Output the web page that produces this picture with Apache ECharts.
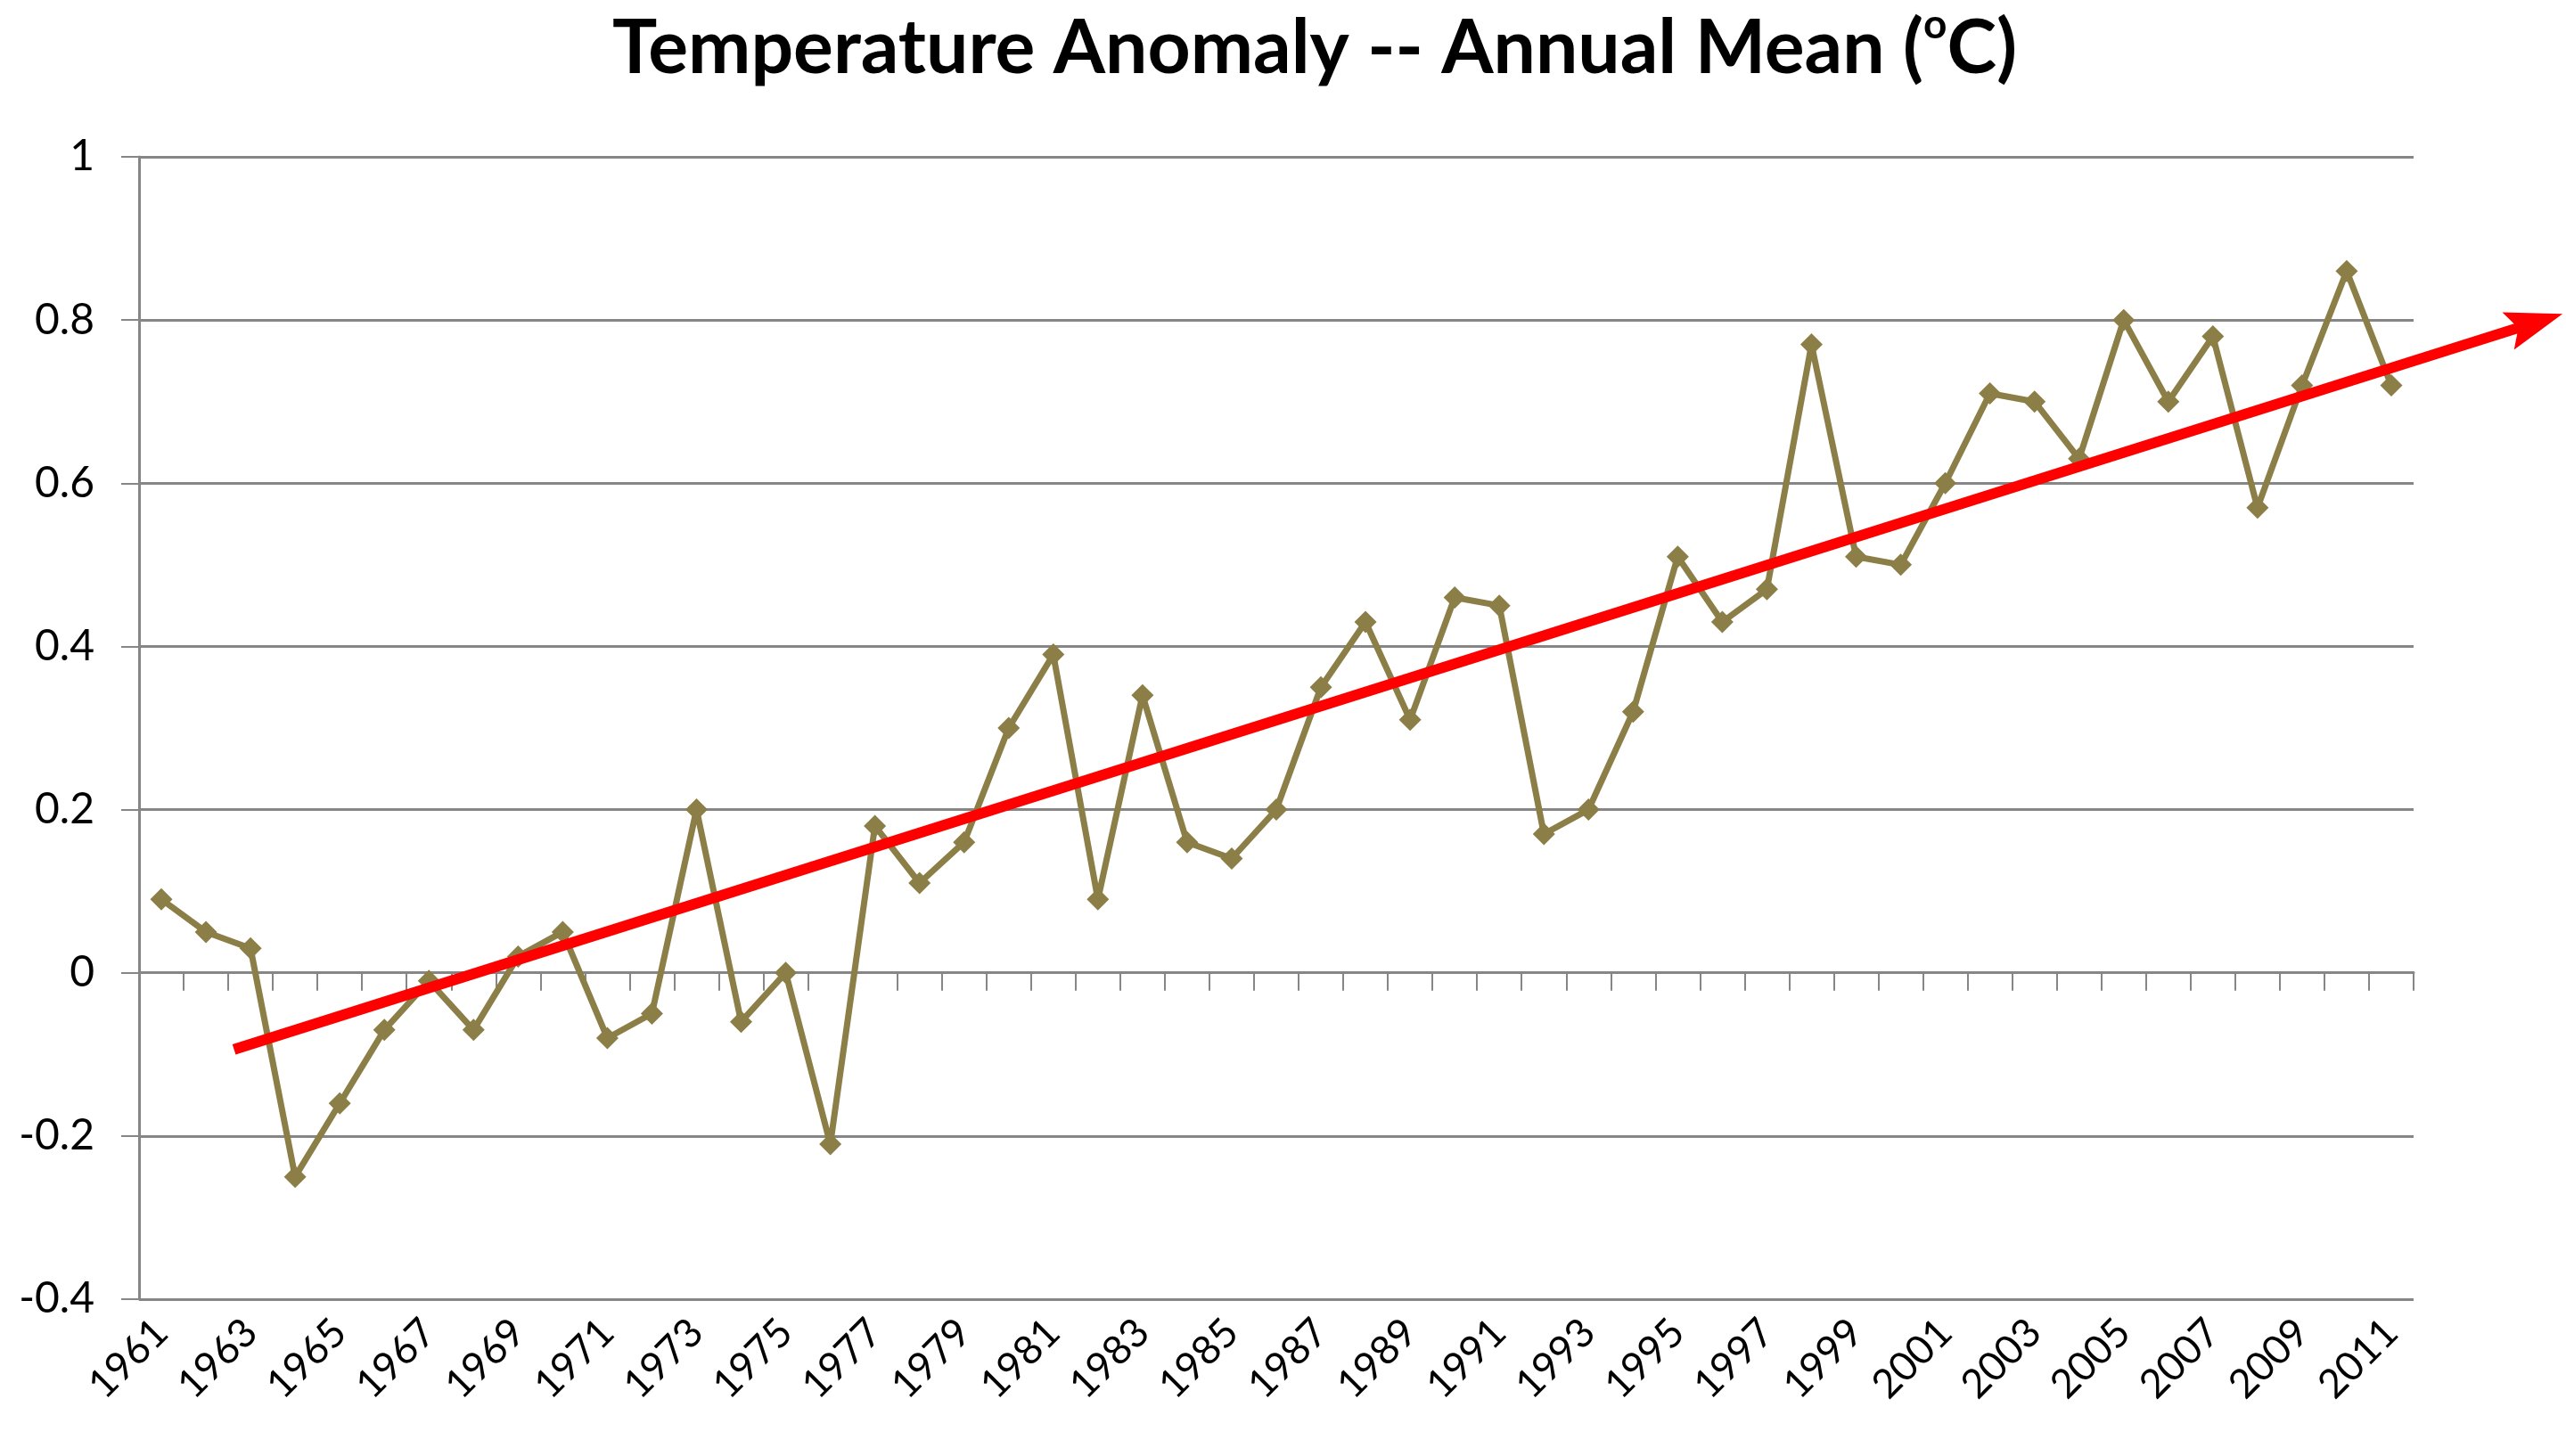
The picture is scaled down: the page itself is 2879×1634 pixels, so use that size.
<!DOCTYPE html>
<html>
<head>
<meta charset="utf-8">
<script src="https://cdn.jsdelivr.net/npm/echarts@6/dist/echarts.min.js"></script>
<style>
html, body { margin: 0; padding: 0; background: #fff; }
#chart { width: 2879px; height: 1634px; }
</style>
</head>
<body>
<div id="chart"></div>
<script>
var years = ['1961', '1962', '1963', '1964', '1965', '1966', '1967', '1968', '1969', '1970',
  '1971', '1972', '1973', '1974', '1975', '1976', '1977', '1978', '1979', '1980',
  '1981', '1982', '1983', '1984', '1985', '1986', '1987', '1988', '1989', '1990',
  '1991', '1992', '1993', '1994', '1995', '1996', '1997', '1998', '1999', '2000',
  '2001', '2002', '2003', '2004', '2005', '2006', '2007', '2008', '2009', '2010', '2011'];

var anomaly = [0.09, 0.05, 0.03, -0.25, -0.16, -0.07, -0.01, -0.07, 0.02, 0.05,
  -0.08, -0.05, 0.20, -0.06, 0.00, -0.21, 0.18, 0.11, 0.16, 0.30,
  0.39, 0.09, 0.34, 0.16, 0.14, 0.20, 0.35, 0.43, 0.31, 0.46,
  0.45, 0.17, 0.20, 0.32, 0.51, 0.43, 0.47, 0.77, 0.51, 0.50,
  0.60, 0.71, 0.70, 0.63, 0.80, 0.70, 0.78, 0.57, 0.72, 0.86, 0.72];

// hand drawn trend arrow: start and end (year, value), arrow head sits past the end
var trendYears = [1962.63, 2014.23];
var trendValues = [-0.094, 0.797];

var olive = '#8B7E46';
var gridGray = '#868686';
var font = 'Lato, "Liberation Sans", sans-serif';

var W = 2879;
var gridLeft = 156, gridRight = 171, gridTop = 176, gridBottom = 176;
var plotW = W - gridLeft - gridRight;
var arrowW = W - gridLeft;

// notched arrow head, square bounding box so it is not stretched
var arrowHead = 'path://M0,0 M64,64 M32,0 L54,64 L32,52 L10,64 Z';

var dom = document.getElementById('chart');
var myChart = echarts.init(dom, null, { renderer: 'canvas' });

var option = {
  animation: false,
  backgroundColor: '#fff',
  title: {
    left: 1470,
    textAlign: 'center',
    top: 0,
    text: '{a|Temperature Anomaly -- Annual Mean (}{s|o}{a|C)}',
    textStyle: {
      rich: {
        a: { fontFamily: font, fontWeight: 'bold', fontSize: 84, color: '#000', lineHeight: 100 },
        s: { fontFamily: font, fontWeight: 'bold', fontSize: 46, color: '#000', verticalAlign: 'top', lineHeight: 78 }
      }
    }
  },
  grid: [
    { left: gridLeft, right: gridRight, top: gridTop, bottom: gridBottom },
    { left: gridLeft, right: 0, top: gridTop, bottom: gridBottom }
  ],
  xAxis: [
    {
      type: 'category',
      gridIndex: 0,
      data: years,
      boundaryGap: true,
      axisLine: { onZero: true, lineStyle: { color: gridGray, width: 3 } },
      axisTick: { show: true, interval: 0, length: 20, lineStyle: { color: gridGray, width: 2 } },
      axisLabel: { show: false },
      splitLine: { show: false }
    },
    {
      type: 'category',
      gridIndex: 0,
      position: 'bottom',
      data: years,
      boundaryGap: true,
      axisLine: { show: false, onZero: false },
      axisTick: { show: false },
      axisLabel: {
        interval: 1,
        rotate: 45,
        margin: 30,
        fontFamily: font,
        fontSize: 45,
        color: '#000'
      },
      splitLine: { show: false }
    },
    {
      type: 'value',
      gridIndex: 1,
      min: 1960.5,
      max: 1960.5 + years.length * arrowW / plotW,
      show: false
    }
  ],
  yAxis: [
    {
      type: 'value',
      gridIndex: 0,
      min: -0.4,
      max: 1,
      interval: 0.2,
      axisLine: { show: true, lineStyle: { color: gridGray, width: 3 } },
      axisTick: { show: true, length: 20, lineStyle: { color: gridGray, width: 2 } },
      axisLabel: { margin: 50, fontFamily: font, fontSize: 48, color: '#000' },
      splitLine: { lineStyle: { color: gridGray, width: 3 } }
    },
    {
      type: 'value',
      gridIndex: 1,
      min: -0.4,
      max: 1,
      show: false
    }
  ],
  series: [
    {
      type: 'line',
      xAxisIndex: 0,
      yAxisIndex: 0,
      data: anomaly,
      symbol: 'diamond',
      symbolSize: 25,
      silent: true,
      lineStyle: { color: olive, width: 7 },
      itemStyle: { color: olive },
      z: 3
    },
    {
      type: 'line',
      xAxisIndex: 2,
      yAxisIndex: 1,
      data: [[trendYears[0], trendValues[0]], [trendYears[1], trendValues[1]]],
      symbol: 'none',
      silent: true,
      clip: false,
      lineStyle: { width: 0, opacity: 0 },
      markLine: {
        silent: true,
        symbol: ['none', arrowHead],
        symbolSize: 64,
        label: { show: false },
        lineStyle: { color: '#FF0000', width: 12, type: 'solid' },
        data: [[
          { coord: [trendYears[0], trendValues[0]] },
          { coord: [trendYears[1], trendValues[1]] }
        ]]
      },
      z: 4
    }
  ]
};

myChart.setOption(option);
window.addEventListener('resize', myChart.resize);
</script>
</body>
</html>
